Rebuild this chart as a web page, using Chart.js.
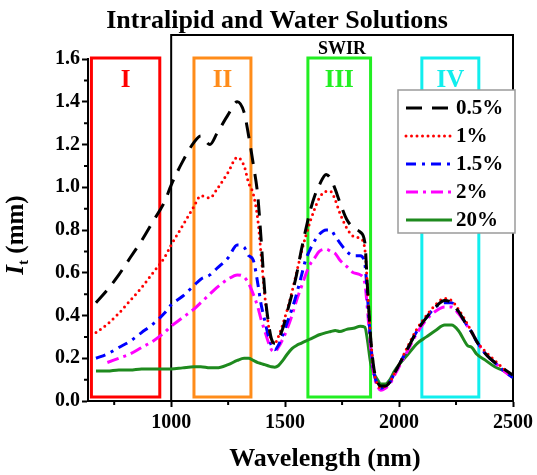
<!DOCTYPE html>
<html>
<head>
<meta charset="utf-8">
<script src="https://cdn.jsdelivr.net/npm/chart.js@4.4.1/dist/chart.umd.min.js"></script>
<style>
html, body { margin: 0; padding: 0; background: #fff; }
</style>
</head>
<body>
<canvas id="myChart" width="537" height="475"></canvas>
<script>
// wavelength grid (nm), shared by all series
const wavelengths = [670, 720, 770, 820, 870, 920, 970, 1000, 1050, 1100, 1130, 1170, 1200, 1250, 1290, 1320, 1340, 1360, 1380, 1395,
  1410, 1425, 1440, 1455, 1470, 1490, 1510, 1530, 1550, 1570, 1590, 1610, 1630, 1650, 1680, 1700, 1720, 1740, 1770, 1800,
  1830, 1850, 1862, 1875, 1890, 1905, 1920, 1940, 1960, 1980, 2000, 2040, 2080, 2120, 2160, 2200, 2230, 2260, 2300, 2320,
  2340, 2380, 2420, 2460, 2500];

const il05 = [0.46, 0.52, 0.59, 0.67, 0.75, 0.84, 0.93, 1.01, 1.12, 1.21, 1.24, 1.20, 1.25, 1.34, 1.40, 1.35, 1.24, 1.11, 0.96, 0.75,
  0.52, 0.38, 0.29, 0.27, 0.29, 0.34, 0.42, 0.50, 0.59, 0.70, 0.80, 0.89, 0.96, 1.01, 1.06, 1.04, 0.99, 0.93, 0.85, 0.81,
  0.79, 0.74, 0.52, 0.30, 0.15, 0.09, 0.07, 0.07, 0.09, 0.13, 0.17, 0.25, 0.33, 0.39, 0.44, 0.47, 0.46, 0.42, 0.35, 0.32,
  0.28, 0.22, 0.18, 0.15, 0.12];
const il1 = [0.32, 0.36, 0.41, 0.47, 0.53, 0.60, 0.67, 0.73, 0.82, 0.91, 0.96, 0.95, 0.99, 1.07, 1.14, 1.10, 1.02, 0.97, 0.85, 0.68,
  0.50, 0.37, 0.28, 0.27, 0.30, 0.36, 0.43, 0.51, 0.60, 0.69, 0.77, 0.84, 0.90, 0.95, 0.98, 0.98, 0.94, 0.88, 0.81, 0.77,
  0.76, 0.71, 0.52, 0.30, 0.14, 0.08, 0.06, 0.07, 0.09, 0.13, 0.17, 0.26, 0.34, 0.40, 0.45, 0.48, 0.47, 0.43, 0.36, 0.32,
  0.28, 0.23, 0.19, 0.15, 0.12];
const il15 = [0.20, 0.22, 0.25, 0.28, 0.32, 0.36, 0.41, 0.45, 0.49, 0.54, 0.57, 0.59, 0.62, 0.67, 0.73, 0.72, 0.68, 0.66, 0.55, 0.45,
  0.38, 0.31, 0.26, 0.24, 0.26, 0.31, 0.37, 0.43, 0.50, 0.58, 0.66, 0.71, 0.75, 0.78, 0.80, 0.80, 0.77, 0.74, 0.70, 0.68,
  0.68, 0.64, 0.48, 0.28, 0.13, 0.08, 0.06, 0.07, 0.09, 0.13, 0.17, 0.25, 0.33, 0.39, 0.44, 0.46, 0.46, 0.42, 0.35, 0.32,
  0.28, 0.22, 0.18, 0.14, 0.11];
const il2 = [null, 0.18, 0.20, 0.22, 0.25, 0.28, 0.32, 0.35, 0.39, 0.43, 0.46, 0.50, 0.53, 0.57, 0.59, 0.58, 0.55, 0.50, 0.44, 0.38,
  0.33, 0.28, 0.24, 0.23, 0.25, 0.29, 0.34, 0.40, 0.47, 0.53, 0.59, 0.64, 0.67, 0.70, 0.71, 0.70, 0.69, 0.66, 0.63, 0.60,
  0.59, 0.55, 0.42, 0.25, 0.12, 0.07, 0.05, 0.06, 0.08, 0.12, 0.16, 0.24, 0.32, 0.38, 0.42, 0.44, 0.44, 0.41, 0.35, 0.32,
  0.28, 0.22, 0.18, 0.14, 0.11];
const il20 = [0.14, 0.14, 0.145, 0.145, 0.15, 0.15, 0.15, 0.15, 0.155, 0.16, 0.16, 0.155, 0.155, 0.17, 0.19, 0.20, 0.20, 0.19, 0.18, 0.175,
  0.17, 0.165, 0.16, 0.158, 0.165, 0.19, 0.22, 0.245, 0.26, 0.27, 0.28, 0.29, 0.30, 0.31, 0.32, 0.325, 0.33, 0.325, 0.335, 0.34,
  0.35, 0.345, 0.28, 0.18, 0.13, 0.10, 0.08, 0.08, 0.10, 0.14, 0.17, 0.22, 0.27, 0.30, 0.33, 0.355, 0.355, 0.33, 0.26, 0.25,
  0.22, 0.19, 0.16, 0.14, 0.11];

const seriesLabels = ['0.5%', '1%', '1.5%', '2%', '20%'];
const xTicks = [1000, 1500, 2000, 2500];
const yTicks = [0, 0.2, 0.4, 0.6, 0.8, 1.0, 1.2, 1.4, 1.6];

// spectral windows
const bandNames = ['I', 'II', 'III', 'IV'];
const bandStart = [650, 1100, 1600, 2100];
const bandEnd = [950, 1350, 1875, 2350];
const swirStart = 1000;

const bandColors = ['#ff0000', '#ff8c1a', '#22ee22', '#11eeee'];
const lineColors = ['#000000', '#ff0000', '#0000ff', '#ff00ff', '#1e8a1e'];
const lineDashes = [[16, 10], [0, 5.5], [10, 6, 3, 6], [12, 5, 3, 5], []];
const lineCaps = ['butt', 'round', 'butt', 'butt', 'butt'];
const serif = "'Liberation Serif', 'Times New Roman', serif";

const allSeries = [il05, il1, il15, il2, il20];

const datasets = allSeries.map((vals, i) => ({
  label: seriesLabels[i],
  data: wavelengths.map((w, j) => ({ x: w, y: vals[j] })),
  borderColor: lineColors[i],
  borderWidth: 3,
  borderDash: lineDashes[i],
  borderCapStyle: lineCaps[i],
  pointRadius: 0,
  fill: false,
  cubicInterpolationMode: 'monotone'
}));

const decor = {
  id: 'decor',
  beforeDatasetsDraw(chart) {
    const { ctx, chartArea, scales } = chart;
    const xs = scales.x;
    ctx.save();
    // SWIR box
    const sx = xs.getPixelForValue(swirStart);
    ctx.strokeStyle = '#000';
    ctx.lineWidth = 2;
    ctx.strokeRect(sx, 35, chartArea.right - sx, chartArea.bottom - 35);
    ctx.fillStyle = '#000';
    ctx.font = 'bold 18px ' + serif;
    ctx.textAlign = 'center';
    ctx.textBaseline = 'alphabetic';
    ctx.fillText('SWIR', (sx + chartArea.right) / 2, 54);
    // windows I-IV
    bandNames.forEach((name, i) => {
      const x1 = xs.getPixelForValue(bandStart[i]);
      const x2 = xs.getPixelForValue(bandEnd[i]);
      ctx.strokeStyle = bandColors[i];
      ctx.lineWidth = 3;
      ctx.strokeRect(x1, chartArea.top - 1, x2 - x1, chartArea.bottom - chartArea.top - 3);
      ctx.fillStyle = bandColors[i];
      ctx.font = 'bold 25px ' + serif;
      ctx.fillText(name, (x1 + x2) / 2, 87);
    });
    ctx.restore();
  },
  afterDraw(chart) {
    const { ctx, chartArea, scales } = chart;
    const xs = scales.x, ys = scales.y;
    ctx.save();
    ctx.fillStyle = '#000';
    ctx.textAlign = 'center';
    ctx.textBaseline = 'alphabetic';
    ctx.font = 'bold 26px ' + serif;
    ctx.fillText('Intralipid and Water Solutions', 277, 28);

    ctx.font = 'bold 26px ' + serif;
    ctx.fillText('Wavelength (nm)', 325, 466);

    // y title: I_t (mm)
    ctx.save();
    ctx.translate(23, 235);
    ctx.rotate(-Math.PI / 2);
    ctx.textAlign = 'left';
    const fI = 'italic bold 25px ' + serif, fT = 'bold 15px ' + serif, fM = 'bold 25px ' + serif;
    ctx.font = fI; const wI = ctx.measureText('I').width;
    ctx.font = fT; const wT = ctx.measureText('t').width;
    ctx.font = fM; const wM = ctx.measureText(' (mm)').width;
    let px = -(wI + wT + wM) / 2;
    ctx.font = fI; ctx.fillText('I', px, 0); px += wI;
    ctx.font = fT; ctx.fillText('t', px, 5); px += wT;
    ctx.font = fM; ctx.fillText(' (mm)', px, 0);
    ctx.restore();

    // minor ticks
    ctx.strokeStyle = '#000';
    ctx.lineWidth = 2;
    ctx.beginPath();
    for (let i = 0; i < yTicks.length - 1; i++) {
      const yp = ys.getPixelForValue((yTicks[i] + yTicks[i + 1]) / 2);
      ctx.moveTo(chartArea.left - 4, yp); ctx.lineTo(chartArea.left, yp);
    }
    const xMinor = [xTicks[0] - (xTicks[1] - xTicks[0]) / 2];
    for (let i = 0; i < xTicks.length - 1; i++) xMinor.push((xTicks[i] + xTicks[i + 1]) / 2);
    xMinor.forEach(v => {
      const xp = xs.getPixelForValue(v);
      ctx.moveTo(xp, chartArea.bottom); ctx.lineTo(xp, chartArea.bottom + 4);
    });
    ctx.stroke();

    // legend
    const lx = 398, ly = 90, lw = 117, lh = 143;
    ctx.fillStyle = '#fff';
    ctx.fillRect(lx, ly, lw, lh);
    ctx.strokeStyle = '#9a9a9a';
    ctx.lineWidth = 1.5;
    ctx.strokeRect(lx, ly, lw, lh);
    ctx.font = 'bold 21px ' + serif;
    ctx.textBaseline = 'middle';
    ctx.textAlign = 'left';
    seriesLabels.forEach((lab, i) => {
      const yy = ly + 18 + i * 28;
      ctx.strokeStyle = lineColors[i];
      ctx.lineWidth = 3;
      ctx.lineCap = lineCaps[i];
      ctx.setLineDash(lineDashes[i]);
      ctx.beginPath();
      ctx.moveTo(406, yy); ctx.lineTo(452, yy);
      ctx.stroke();
      ctx.setLineDash([]);
      ctx.fillStyle = '#000';
      ctx.fillText(lab, 456, yy + 1);
    });
    ctx.restore();
  }
};

new Chart(document.getElementById('myChart'), {
  type: 'line',
  data: { datasets },
  options: {
    responsive: false,
    animation: false,
    devicePixelRatio: 1,
    layout: { padding: { top: 59, right: 20, left: 0, bottom: 0 } },
    plugins: { legend: { display: false }, tooltip: { enabled: false } },
    scales: {
      x: {
        type: 'linear',
        min: 635,
        max: 2500,
        afterBuildTicks: axis => { axis.ticks = xTicks.map(v => ({ value: v })); },
        afterFit: scale => { scale.height = 74; },
        ticks: { color: '#000', font: { family: serif, size: 20, weight: 'bold' }, padding: 4, maxRotation: 0, autoSkip: false, callback: v => String(v) },
        grid: { drawOnChartArea: false, drawTicks: true, tickLength: 6, tickWidth: 2, tickColor: '#000' },
        border: { display: true, color: '#000', width: 2 }
      },
      y: {
        min: 0,
        max: 1.6,
        afterBuildTicks: axis => { axis.ticks = yTicks.map(v => ({ value: v })); },
        afterFit: scale => { scale.width = 88; },
        ticks: { color: '#000', font: { family: serif, size: 20, weight: 'bold' }, padding: 2, callback: v => v.toFixed(1) },
        grid: { drawOnChartArea: false, drawTicks: true, tickLength: 6, tickWidth: 2, tickColor: '#000' },
        border: { display: true, color: '#000', width: 2 }
      }
    }
  },
  plugins: [decor]
});
</script>
</body>
</html>
